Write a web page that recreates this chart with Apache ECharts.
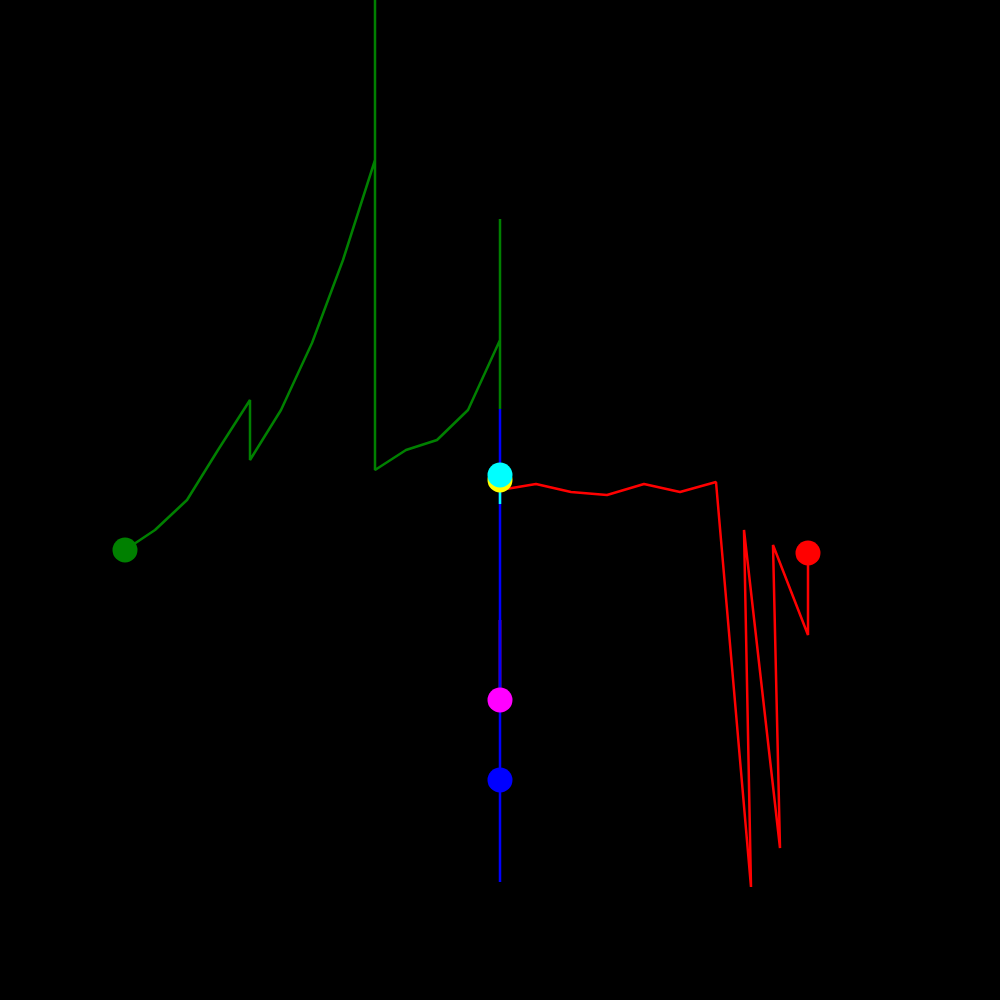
<!DOCTYPE html>
<html>
<head>
<meta charset="utf-8" />
<title></title>
<script type="text/javascript" src="https://cdn.jsdelivr.net/npm/echarts@6/dist/echarts.min.js"></script>
<style>
	html, body, #main {
		padding: 0;
		margin: 0;
		width: 100%;
		height: 100%;
		background: #000;
	}
</style>
</head>
<body>
<div id="main" style="width:1000px;height:1000px;"></div>
<script type="text/javascript">
	// paths, x and y in plot units (0..1000, y upward)
	var greenX = [125, 155, 187, 218, 250, 250, 281, 312, 343, 375, 375, 375, 406, 437, 468, 500, 500, 500];
	var greenY = [450, 470, 500, 550, 600, 540, 590, 657, 740, 840, 1050, 530, 550, 560, 590, 660, 781, 591];

	var redX = [500, 536, 571, 607, 644, 680, 716, 751, 744, 780, 773, 808, 808];
	var redY = [510, 516, 508, 505, 516, 508, 518, 113, 470, 152, 455, 365, 447];

	var blueX = [500, 500, 500];
	var blueY = [591, 118, 220];

	var magentaX = [500, 500];
	var magentaY = [380, 300];

	var yellowX = [500, 500];
	var yellowY = [510, 520];

	var cyanX = [500, 500];
	var cyanY = [496, 525];

	function pts(xs, ys) {
		var out = [];
		for (var i = 0; i < xs.length; i++) out.push([xs[i], ys[i]]);
		return out;
	}

	// name, colour, points, index of the point that gets the dot
	var paths = [
		['green', '#008000', pts(greenX, greenY), 0],
		['magenta', '#ff00ff', pts(magentaX, magentaY), -1],
		['blue', '#0000ff', pts(blueX, blueY), -1],
		['red', '#ff0000', pts(redX, redY), -1],
		['yellow', '#ffff00', pts(yellowX, yellowY), -1],
		['cyan', '#00ffff', pts(cyanX, cyanY), -1]
	];

	var series = [];
	paths.forEach(function (p) {
		series.push({
			name: p[0],
			type: 'line',
			data: p[2],
			symbol: 'none',
			z: 2,
			lineStyle: { color: p[1], width: 2.5 },
			itemStyle: { color: p[1] }
		});
	});
	paths.forEach(function (p) {
		var idx = p[3] < 0 ? p[2].length - 1 : p[3];
		series.push({
			name: p[0] + ' end',
			type: 'scatter',
			data: [p[2][idx]],
			symbol: 'circle',
			symbolSize: 25,
			z: 3,
			itemStyle: { color: p[1], opacity: 1 }
		});
	});

	var chart = echarts.init(document.getElementById('main'));
	chart.setOption({
		backgroundColor: '#000000',
		animation: false,
		grid: { left: 0, right: 0, top: 0, bottom: 0 },
		xAxis: {
			type: 'value', min: 0, max: 1000,
			axisLine: { show: false }, axisTick: { show: false },
			axisLabel: { show: false }, splitLine: { show: false }
		},
		yAxis: {
			type: 'value', min: 0, max: 1000,
			axisLine: { show: false }, axisTick: { show: false },
			axisLabel: { show: false }, splitLine: { show: false }
		},
		series: series
	});
</script>
</body>
</html>
